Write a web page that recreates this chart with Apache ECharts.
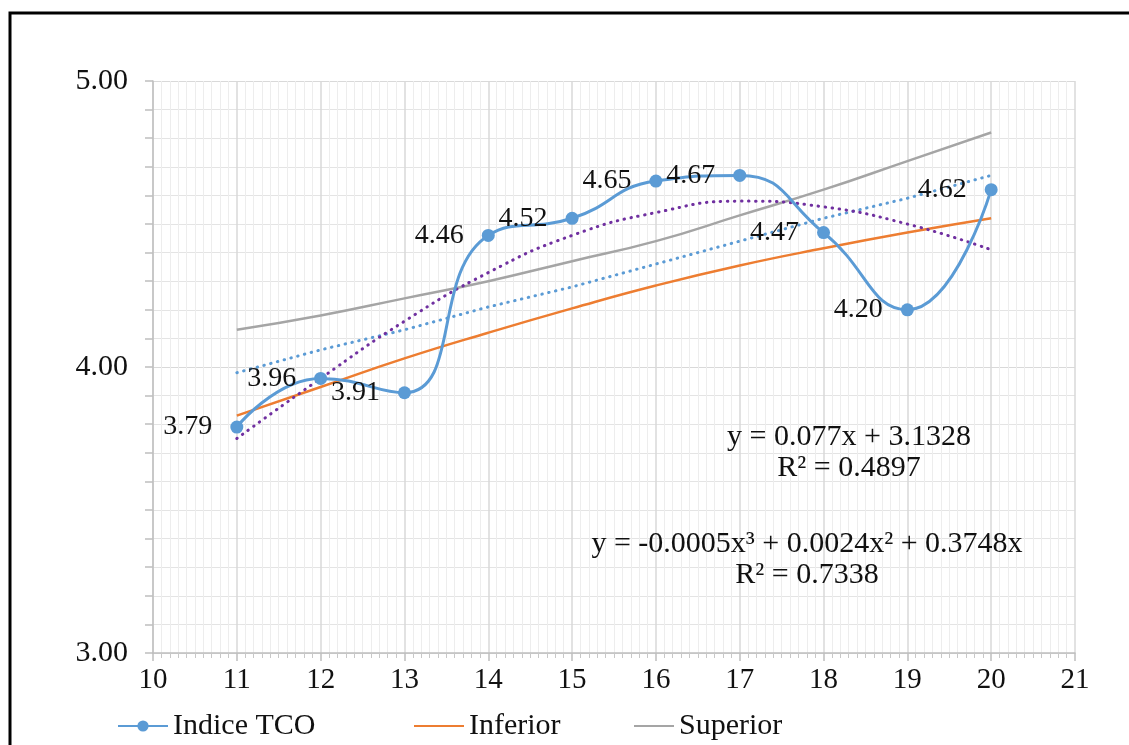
<!DOCTYPE html>
<html>
<head>
<meta charset="utf-8">
<title>Indice TCO</title>
<script src="https://cdn.jsdelivr.net/npm/echarts@6.0.0/dist/echarts.min.js"></script>
<style>
    html, body { margin: 0; padding: 0; background: #fff; }
    #chart { width: 1129px; height: 745px; }
</style>
</head>
<body>
<div id="chart"></div>
<script>
// data
const years = [11, 12, 13, 14, 15, 16, 17, 18, 19, 20]
const indiceTCO = [3.79, 3.96, 3.91, 4.46, 4.52, 4.65, 4.67, 4.47, 4.20, 4.62]
const inferior = [3.83, 3.93, 4.03, 4.12, 4.205, 4.285, 4.355, 4.415, 4.47, 4.52]
const superior = [4.13, 4.18, 4.24, 4.30, 4.37, 4.44, 4.53, 4.62, 4.72, 4.82]
// trend lines as drawn (dotted)
const linearTrend = [3.98, 4.06, 4.13, 4.21, 4.28, 4.36, 4.44, 4.52, 4.59, 4.67]
const polyTrend = [3.75, 3.96, 4.16, 4.33, 4.46, 4.54, 4.58, 4.56, 4.50, 4.41]
const linearText = 'y = 0.077x + 3.1328\nR² = 0.4897'
const polyText = 'y = -0.0005x³ + 0.0024x² + 0.3748x\nR² = 0.7338'

const serif = 'Liberation Serif, Times New Roman, serif'

function pairs(values) {
    return years.map((x, i) => [x, values[i]])
}

const legendText = { fontSize: 30, color: '#111', fontFamily: serif }

const chart = echarts.init(document.getElementById('chart'))

chart.setOption({
    animation: false,
    textStyle: { fontFamily: serif },
    grid: {
        left: 153,
        right: 54,
        top: 81,
        bottom: 92,
    },
    xAxis: {
        type: 'value',
        min: 10,
        max: 21,
        interval: 1,
        axisLine: { lineStyle: { color: '#bfbfbf', width: 1.5 } },
        axisTick: { length: 8, lineStyle: { color: '#bfbfbf', width: 1.5 } },
        minorTick: { show: true, splitNumber: 10, length: 5, lineStyle: { color: '#c8c8c8' } },
        axisLabel: { fontSize: 29, color: '#111', margin: 13, fontFamily: serif },
        splitLine: { show: true, lineStyle: { color: '#d9d9d9', width: 1.5 } },
        minorSplitLine: { show: true, lineStyle: { color: '#ededed', width: 1 } },
    },
    yAxis: {
        type: 'value',
        min: 3,
        max: 5,
        interval: 1,
        axisLine: { show: true, lineStyle: { color: '#bfbfbf', width: 1.5 } },
        axisTick: { show: true, length: 8, lineStyle: { color: '#bfbfbf', width: 1.5 } },
        minorTick: { show: true, splitNumber: 10, length: 8, lineStyle: { color: '#bfbfbf', width: 1.5 } },
        axisLabel: {
            fontSize: 30,
            color: '#111',
            margin: 25,
            fontFamily: serif,
            formatter: v => v.toFixed(2),
        },
        splitLine: { show: true, lineStyle: { color: '#d9d9d9', width: 1 } },
        minorSplitLine: { show: true, lineStyle: { color: '#e4e4e4', width: 1 } },
    },
    legend: [
        {
            data: ['Indice TCO'],
            left: 112,
            top: 706,
            itemWidth: 50,
            itemHeight: 14,
            itemGap: 6,
            textStyle: legendText,
        },
        {
            data: ['Inferior'],
            left: 408,
            top: 706,
            itemWidth: 50,
            itemHeight: 14,
            itemStyle: { opacity: 0 },
            textStyle: legendText,
        },
        {
            data: ['Superior'],
            left: 628,
            top: 706,
            itemWidth: 40,
            itemHeight: 14,
            itemStyle: { opacity: 0 },
            textStyle: legendText,
        },
    ],
    series: [
        {
            name: 'Inferior',
            type: 'line',
            smooth: true,
            symbol: 'none',
            data: pairs(inferior),
            itemStyle: { color: '#ed7d31' },
            lineStyle: { color: '#ed7d31', width: 2.5 },
            z: 2,
        },
        {
            name: 'Superior',
            type: 'line',
            smooth: true,
            symbol: 'none',
            data: pairs(superior),
            itemStyle: { color: '#a5a5a5' },
            lineStyle: { color: '#a5a5a5', width: 2.5 },
            z: 2,
        },
        {
            name: 'Lineal',
            type: 'line',
            symbol: 'none',
            data: pairs(linearTrend),
            lineStyle: { color: '#5b9bd5', width: 3, type: [0.5, 6.5], cap: 'round' },
            z: 3,
        },
        {
            name: 'Polinomica',
            type: 'line',
            smooth: true,
            symbol: 'none',
            data: pairs(polyTrend),
            lineStyle: { color: '#7030a0', width: 3, type: [0.5, 6.5], cap: 'round' },
            z: 3,
        },
        {
            name: 'Indice TCO',
            type: 'line',
            smooth: 0.5,
            symbol: 'circle',
            symbolSize: 13,
            data: pairs(indiceTCO),
            itemStyle: { color: '#5b9bd5' },
            lineStyle: { color: '#5b9bd5', width: 3 },
            label: {
                show: true,
                position: 'left',
                distance: 18,
                fontSize: 28,
                color: '#111',
                fontFamily: serif,
                formatter: p => p.value[1].toFixed(2),
            },
            z: 4,
        },
    ],
    graphic: [
        // outer frame
        {
            type: 'rect',
            shape: { x: 10, y: 13, width: 1140, height: 760 },
            style: { fill: 'none', stroke: '#000', lineWidth: 3 },
            silent: true,
        },
        {
            type: 'text',
            x: 849,
            y: 453,
            z: 10,
            style: {
                text: linearText,
                align: 'center',
                verticalAlign: 'middle',
                lineHeight: 31,
                fontSize: 30,
                fontFamily: serif,
                fill: '#111',
                stroke: null,
                lineWidth: 0,
            },
        },
        {
            type: 'text',
            x: 807,
            y: 560,
            z: 10,
            style: {
                text: polyText,
                align: 'center',
                verticalAlign: 'middle',
                lineHeight: 31,
                fontSize: 30,
                fontFamily: serif,
                fill: '#111',
                stroke: null,
                lineWidth: 0,
            },
        },
    ],
})
</script>
</body>
</html>
